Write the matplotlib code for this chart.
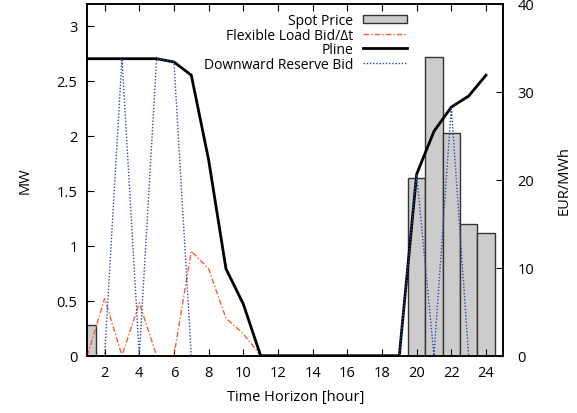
import numpy as np
import matplotlib
matplotlib.use("Agg")
import matplotlib.pyplot as plt

plt.rcParams["font.family"] = ["Open Sans", "DejaVu Sans"]
plt.rcParams["font.size"] = 10.5

hours = np.arange(1, 25)
spot_price = [3.5, 0, 0, 0, 0, 0, 0, 0, 0, 0, 0, 0,
              0, 0, 0, 0, 0, 0, 0, 20.2, 34.0, 25.3, 15.0, 14.0]
flex_bid = [0, 0.52, 0, 0.48, 0, 0, 0.95, 0.79, 0.34, 0.2, 0, 0,
            0, 0, 0, 0, 0, 0, 0, 0, 0, 0, 0, 0]
pline = [2.70, 2.70, 2.70, 2.70, 2.70, 2.67, 2.55, 1.78, 0.79, 0.47, 0, 0,
         0, 0, 0, 0, 0, 0, 0, 1.65, 2.04, 2.26, 2.36, 2.55]
down_bid = [0, 0, 2.70, 0, 2.70, 2.67, 0, 0, 0, 0, 0, 0,
            0, 0, 0, 0, 0, 0, 0, 1.65, 0, 2.26, 0, 0]

fig = plt.figure(figsize=(5.77, 4.14), dpi=100)
ax1 = fig.add_axes([87.3 / 577, 1 - 356.7 / 414, (503.3 - 87.3) / 577, (356.7 - 4.7) / 414])
ax2 = ax1.twinx()

bars = ax2.bar(hours, spot_price, width=1.0, facecolor="#cccccc",
               edgecolor="#333333", linewidth=1.0, label="Spot Price")
l1, = ax1.plot(hours, flex_bid, color="#f5602e", lw=1.0,
               dashes=(4, 1.5, 1, 1.5), label="Flexible Load Bid/\u0394t")
l2, = ax1.plot(hours, pline, color="black", lw=2.0, label="Pline")
l3, = ax1.plot(hours, down_bid, color="#2a48b8", lw=1.0,
               dashes=(1, 1.3), label="Downward Reserve Bid")

ax1.set_zorder(ax2.get_zorder() + 1)
ax1.patch.set_visible(False)

ax1.set_xlim(1, 25)
ax1.set_ylim(0, 3.2)
ax2.set_ylim(0, 40)
ax1.set_xticks(np.arange(2, 25, 2))
ax1.set_yticks([0, 0.5, 1, 1.5, 2, 2.5, 3])
ax1.set_yticklabels(["0", "0.5", "1", "1.5", "2", "2.5", "3"])
ax2.set_yticks([0, 10, 20, 30, 40])

ax1.tick_params(axis="x", direction="in", top=True, length=5, pad=7)
ax1.tick_params(axis="y", direction="in", length=5, pad=7)
ax2.tick_params(axis="y", direction="in", length=5, pad=10)
for ax in (ax1, ax2):
    for s in ax.spines.values():
        s.set_linewidth(1.2)

ax1.set_xlabel("Time Horizon [hour]", labelpad=6)
ax1.set_ylabel("MW", labelpad=17)
ax2.set_ylabel("EUR/MWh", labelpad=16)

leg = fig.legend([bars, l1, l2, l3],
                 ["Spot Price", "Flexible Load Bid/\u0394t", "Pline", "Downward Reserve Bid"],
                 loc="upper right", bbox_to_anchor=(414 / 577, 1 - 7 / 414),
                 markerfirst=False, frameon=False, borderpad=0, fontsize=10,
                 handlelength=3.2, handletextpad=0.7, labelspacing=-0.03,
                 handleheight=0.6)

fig.savefig("out.png", dpi=100)
